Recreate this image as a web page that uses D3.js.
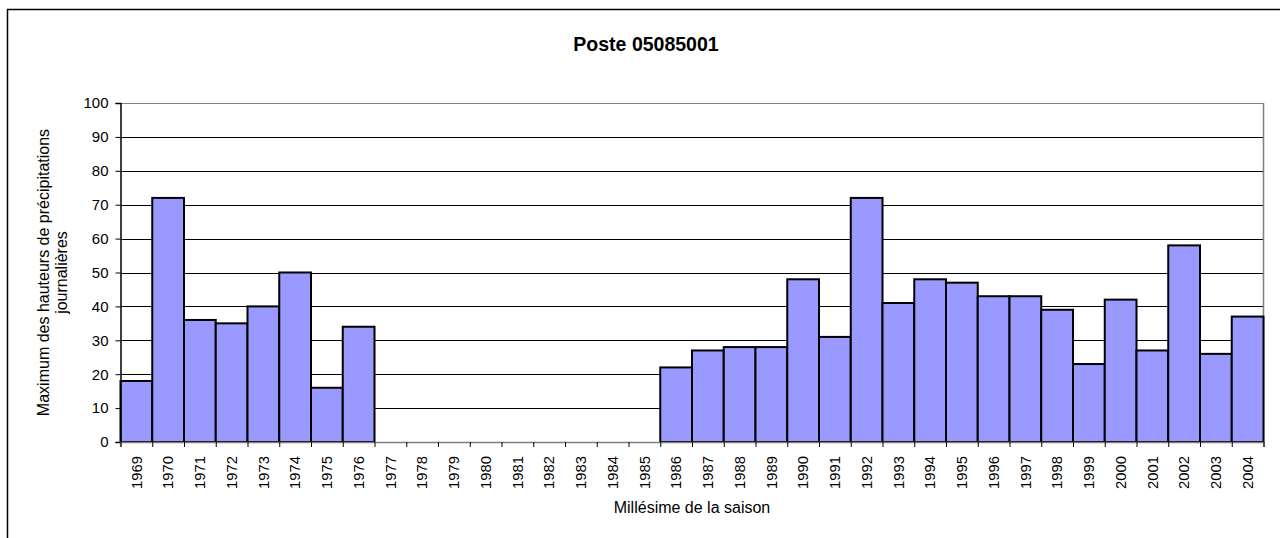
<!DOCTYPE html>
<html>
<head>
<meta charset="utf-8">
<script src="https://cdn.jsdelivr.net/npm/d3@7"></script>
<style>
  body { margin: 0; background: #fff; }
  text { font-family: "Liberation Sans", Arial, sans-serif; }
</style>
</head>
<body>
<div class="grafico"></div>
<script>
// valeurs (null = pas de donnée)
var annees = ["1969","1970","1971","1972","1973","1974","1975","1976","1977","1978",
  "1979","1980","1981","1982","1983","1984","1985","1986","1987","1988","1989","1990",
  "1991","1992","1993","1994","1995","1996","1997","1998","1999","2000","2001","2002",
  "2003","2004"];
var maxPluie = [18, 72, 36, 35, 40, 50, 16, 34, null, null,
  null, null, null, null, null, null, null, 22, 27, 28, 28, 48,
  31, 72, 41, 48, 47, 43, 43, 39, 23, 42, 27, 58,
  26, 37];
var yTicks = [0, 10, 20, 30, 40, 50, 60, 70, 80, 90, 100];

var titre = "Poste 05085001";
var titreX = "Millésime de la saison";
var titreY = ["Maximum des hauteurs de précipitations", "journalières"];

var width = 1280, height = 538;
var gauche = 120.5, droite = 1263.5, haut = 103, bas = 442;

var svg = d3.select(".grafico").append("svg")
  .attr("width", width)
  .attr("height", height);

// cadre extérieur
svg.append("rect")
  .attr("x", 7.5).attr("y", 9.5)
  .attr("width", width).attr("height", height)
  .attr("fill", "none").attr("stroke", "#000").attr("stroke-width", 1.5);

var data = annees.map(function(a, i){ return {annee: a, valeur: maxPluie[i]}; });

var x = d3.scaleBand().domain(annees).range([gauche, droite]).padding(0);
var y = d3.scaleLinear().domain([0, 100]).range([bas, haut]);

// grille horizontale
svg.append("g").selectAll("line")
  .data(yTicks.slice(1))
  .enter().append("line")
  .attr("x1", gauche).attr("x2", droite)
  .attr("y1", function(d){ return Math.round(y(d)) + 0.5; })
  .attr("y2", function(d){ return Math.round(y(d)) + 0.5; })
  .attr("stroke", function(d){ return d == 100 ? "#808080" : "#000"; })
  .attr("stroke-width", 1);

// bord droit de la zone de tracé
svg.append("line")
  .attr("x1", droite).attr("x2", droite)
  .attr("y1", haut).attr("y2", bas)
  .attr("stroke", "#808080").attr("stroke-width", 1.5);

// barres
svg.append("g").selectAll("rect")
  .data(data.filter(function(d){ return d.valeur != null; }))
  .enter().append("rect")
  .attr("x", function(d){ return x(d.annee); })
  .attr("y", function(d){ return y(d.valeur); })
  .attr("width", x.bandwidth())
  .attr("height", function(d){ return y(0) - y(d.valeur); })
  .attr("fill", "#9999FF")
  .attr("stroke", "#000")
  .attr("stroke-width", 2);

// axe Y
var yAxis = d3.axisLeft(y).tickValues(yTicks).tickSize(5).tickPadding(7);
var gy = svg.append("g")
  .attr("transform", "translate(" + gauche + ",0)")
  .call(yAxis);
gy.select(".domain").attr("stroke", "#000").attr("stroke-width", 1.5);
gy.selectAll("text").attr("font-size", "15px").attr("fill", "#000")
  .style("font-family", "'Liberation Sans', Arial, sans-serif");

// axe X : graduations entre les catégories
var bords = d3.scaleLinear().domain([0, annees.length]).range([gauche, droite]);
var xAxisTicks = d3.axisBottom(bords).tickValues(d3.range(0, annees.length + 1))
  .tickSize(5).tickFormat("");
var gxt = svg.append("g")
  .attr("transform", "translate(0," + bas + ")")
  .call(xAxisTicks);
gxt.select(".domain").attr("stroke", "#808080").attr("stroke-width", 1.5);

var xAxis = d3.axisBottom(x).tickSize(0).tickPadding(0);
var gx = svg.append("g")
  .attr("transform", "translate(0," + bas + ")")
  .call(xAxis);
gx.select(".domain").remove();
gx.selectAll("text")
  .attr("font-size", "14.8px").attr("fill", "#000")
  .style("font-family", "'Liberation Sans', Arial, sans-serif")
  .attr("text-anchor", "end")
  .attr("dy", "0.35em")
  .attr("transform", "translate(0,14) rotate(-90)")
  .attr("x", 0).attr("y", 0);

// titres
svg.append("text")
  .attr("x", 646).attr("y", 51)
  .attr("text-anchor", "middle")
  .attr("font-size", "19.5px").attr("font-weight", "bold")
  .text(titre);

svg.append("text")
  .attr("x", (gauche + droite) / 2).attr("y", 513)
  .attr("text-anchor", "middle")
  .attr("font-size", "16px")
  .text(titreX);

var ty = svg.append("text")
  .attr("text-anchor", "middle")
  .attr("font-size", "16px")
  .attr("transform", "translate(49," + ((haut + bas) / 2) + ") rotate(-90)");
titreY.forEach(function(l, i){
  ty.append("tspan").attr("x", 0).attr("dy", i == 0 ? 0 : "1.1em").text(l);
});
</script>
</body>
</html>
